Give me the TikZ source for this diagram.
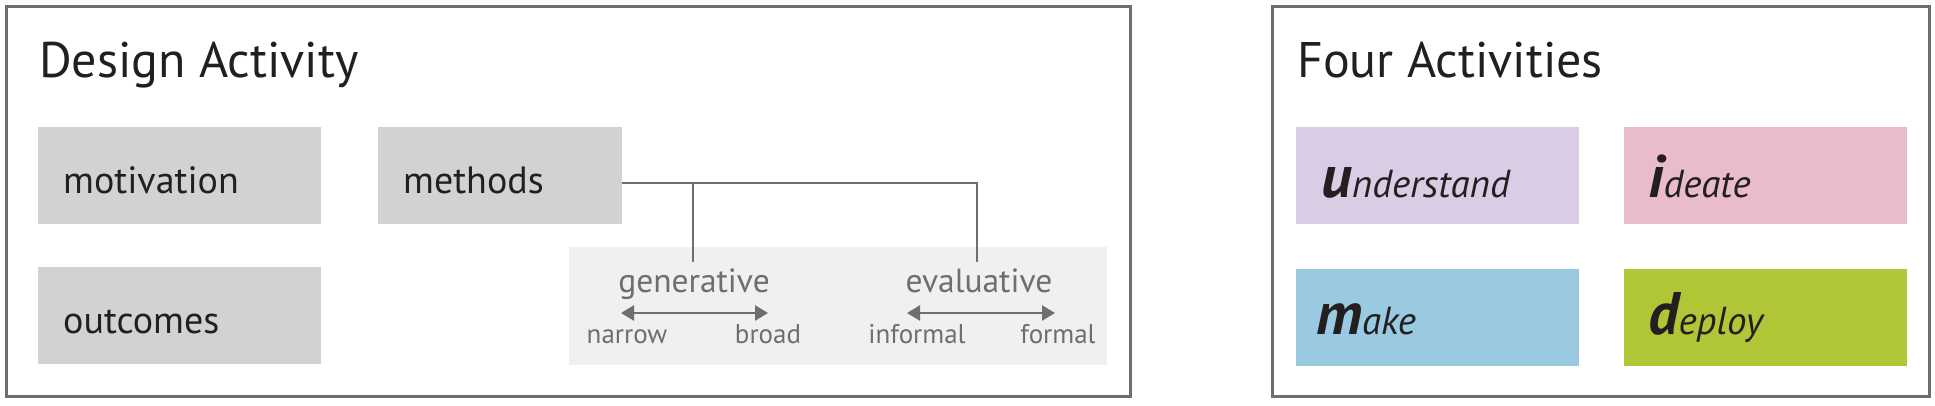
\documentclass[tikz,border=0pt]{standalone}
\usepackage{fontspec}
\setmainfont{PT Sans}
\usetikzlibrary{arrows.meta,calc}
\definecolor{framegray}{HTML}{6D6E70}
\definecolor{boxgray}{HTML}{D1D2D4}
\definecolor{panelgray}{HTML}{F0F0F0}
\definecolor{textdark}{HTML}{231F20}
\definecolor{textgray}{HTML}{6D6E70}
\definecolor{lav}{HTML}{DACCE5}
\definecolor{pink}{HTML}{E8BCCA}
\definecolor{skyb}{HTML}{99CAE1}
\definecolor{lime}{HTML}{B0C636}
\tikzset{
  panel/.style={draw=framegray, line width=3pt, fill=white},
  tile/.style={anchor=north west, inner sep=0pt, minimum width=283pt, minimum height=97pt},
  title/.style={anchor=base west, inner sep=0pt, text=textdark, font=\fontsize{50}{52}\selectfont},
  lbl/.style={anchor=base west, inner sep=0pt, text=textdark, font=\fontsize{38}{42}\selectfont},
  ilbl/.style={anchor=base west, inner sep=0pt, text=textdark, font=\fontsize{39}{42}\selectfont\itshape},
  sub/.style={anchor=base, inner sep=0pt, text=textgray, font=\fontsize{33.5}{36}\selectfont},
  small/.style={anchor=base, inner sep=0pt, text=textgray, font=\fontsize{27}{30}\selectfont},
  conn/.style={draw=framegray, line width=2.5pt},
  dbl/.style={draw=framegray, line width=2.5pt, {Triangle[length=13pt,width=15pt]}-{Triangle[length=13pt,width=15pt]}},
}
\newcommand{\initl}[1]{{\fontsize{60}{62}\selectfont\bfseries #1}}
\begin{document}
\begin{tikzpicture}[x=1pt,y=-1pt]
\useasboundingbox (0,0) rectangle (1935,405);
\fill[white] (0,0) rectangle (1935,405);
% panels
\draw[panel] (6,6) rectangle (1130,396);
\draw[panel] (1272,6) rectangle (1929,396);
% titles
\node[title] (t1) at (39,77) {Design Activity};
\node[title] (t2) at (1297,77) {Four Activities};
% left boxes
\node[tile, fill=boxgray] (motiv) at (38,127) {};
\node[tile, fill=boxgray] (outc) at (38,267) {};
\node[tile, fill=boxgray, minimum width=244pt] (meth) at (378,127) {};
\node[lbl] (motivt) at ($(motiv.west)+(25,17.5)$) {motivation};
\node[lbl] (outct) at ($(outc.west)+(25,17.5)$) {outcomes};
\node[lbl] (metht) at ($(meth.west)+(25,17.5)$) {methods};
% light panel
\node[anchor=north west, inner sep=0pt, fill=panelgray, minimum width=538pt, minimum height=118pt] (pan) at (569,247) {};
% connector
\coordinate (j1) at (693,183);
\coordinate (j2) at (977,183);
\coordinate (g) at (693,262);
\coordinate (e) at (977,262);
\draw[conn] (meth.east |- j1) -- (j2) -- (e);
\draw[conn] (j1) -- (g);
% generative
\node[sub] (gen) at (694,292) {generative};
\node[sub] (eva) at (979,292) {evaluative};
\coordinate (ga) at (621,313);
\coordinate (gb) at (768,313);
\coordinate (ea) at (907,313);
\coordinate (eb) at (1055,313);
\draw[dbl] (ga) -- (gb);
\draw[dbl] (ea) -- (eb);
\node[small] (nar) at (627,343) {narrow};
\node[small] (bro) at (768,343) {broad};
\node[small] (inf) at (917,343) {informal};
\node[small] (for) at (1058,343) {formal};
% right tiles
\node[tile, fill=lav] (und) at (1296,127) {};
\node[tile, fill=pink] (ide) at (1624,127) {};
\node[tile, fill=skyb] (mak) at (1296,269) {};
\node[tile, fill=lime] (dep) at (1624,269) {};
\node[ilbl] (undt) at (1321,197) {\initl{u}nderstand};
\node[ilbl] (idet) at (1648,197) {\initl{i}deate};
\node[ilbl] (makt) at (1316,334) {\initl{m}ake};
\node[ilbl] (dept) at (1648,334) {\initl{d}eploy};
\end{tikzpicture}
\end{document}
